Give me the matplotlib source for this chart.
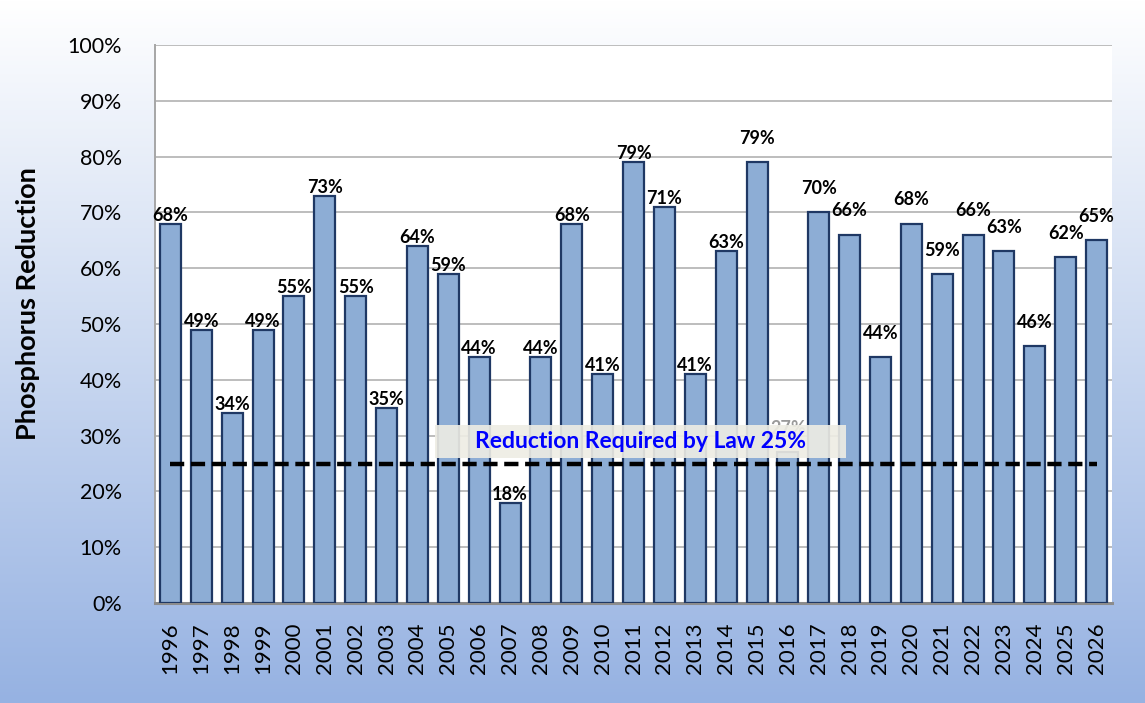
import numpy as np
import matplotlib
matplotlib.use('Agg')
import matplotlib.pyplot as plt
from matplotlib.patches import Rectangle

plt.rcParams['font.family'] = ['Lato', 'DejaVu Sans']

years = [str(y) for y in range(1996, 2027)]
reduction = [68, 49, 34, 49, 55, 73, 55, 35, 64, 59, 44, 18, 44, 68, 41, 79,
             71, 41, 63, 79, 27, 70, 66, 44, 68, 59, 66, 63, 46, 62, 65]
required = 25
note = 'Reduction Required by Law 25%'

fig = plt.figure(figsize=(11.45, 7.03), dpi=100)

# background gradient, white at top to light blue at bottom
bg = fig.add_axes([0, 0, 1, 1], zorder=-10)
top = np.array([255, 255, 255]) / 255
bottom = np.array([150, 178, 226]) / 255
t = np.linspace(0, 1, 256)[:, None]
grad = (top * (1 - t) + bottom * t)[:, None, :]
bg.imshow(grad, aspect='auto', extent=[0, 1, 0, 1])
bg.axis('off')

ax = fig.add_axes([0.1354, 0.1422, 0.9712 - 0.1354, 0.936 - 0.1422])
ax.set_facecolor('white')
x = np.arange(len(years))
bars = ax.bar(x, reduction, width=0.68, color='#8dadd5', edgecolor='#1f3864',
              linewidth=1.6, zorder=3)

for i, v in enumerate(reduction):
    lift = 11 if int(years[i]) >= 2015 else 0
    color = '#9a9a9a' if years[i] == '2016' else 'black'
    ax.annotate(f'{v}%', (x[i], v), xytext=(0, lift), textcoords='offset points',
                ha='center', va='bottom', fontsize=13, fontweight='bold',
                color=color, zorder=4)

ax.plot([x[0], x[-1]], [required, required], color='black', linewidth=3.2,
        dashes=(3.2, 1.5), zorder=6)

ax.add_patch(Rectangle((8.57, 26.0), 21.88 - 8.57, 31.9 - 26.0, facecolor='#eeede4',
                       alpha=0.9, edgecolor='none', zorder=5))
ax.text((8.57 + 21.88) / 2, 29.0, note, ha='center', va='center', color='#0000ff',
        fontsize=16.5, fontweight='bold', zorder=7)

ax.set_xlim(-0.5, len(years) - 0.5)
ax.set_ylim(0, 100)
ax.set_yticks(range(0, 101, 10))
ax.set_yticklabels([f'{v}%' for v in range(0, 101, 10)], fontsize=15.5)
ax.set_xticks(x)
ax.set_xticklabels(years, rotation=90, fontsize=16)
ax.tick_params(length=0, pad=14)
ax.tick_params(axis='y', pad=24)
ax.grid(axis='y', color='#bdbdbd', linewidth=1.4, zorder=0)
ax.set_axisbelow(True)
for s in ['top', 'right']:
    ax.spines[s].set_visible(False)
ax.spines['left'].set_color('#a6a6a6')
ax.spines['left'].set_linewidth(1.4)
ax.spines['bottom'].set_color('#8c8c8c')
ax.spines['bottom'].set_linewidth(2.2)
ax.set_ylabel('Phosphorus Reduction', fontsize=19.5, fontweight='bold')
ax.yaxis.set_label_coords(-0.1202, 0.536)

fig.savefig('out.png', dpi=100)
